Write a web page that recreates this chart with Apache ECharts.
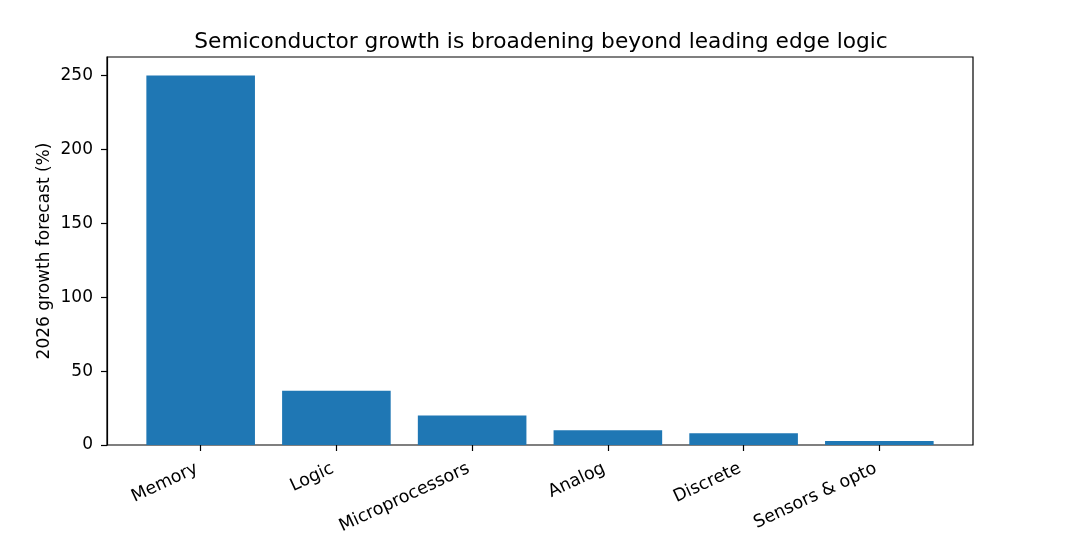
<!DOCTYPE html>
<html><head><meta charset="utf-8">
<script src="https://cdn.jsdelivr.net/npm/echarts@6/dist/echarts.min.js"></script>
<style>html,body{margin:0;padding:0;background:#fff}#c{width:1074px;height:558px}</style>
</head><body><div id="c"></div>
<script>
const categories = ['Memory', 'Logic', 'Microprocessors', 'Analog', 'Discrete', 'Sensors & opto'];
const growth = [250, 36.7, 20, 10, 8, 2.7];
const yTicks = [0, 50, 100, 150, 200, 250];

const chart = echarts.init(document.getElementById('c'));
const font = 'DejaVu Sans';
const gTop = 57, gBottom = 558 - 445;
const outerLeft = 107, outerRight = 1074 - 973;
const band = (973 - 107) / 6.38;
const pad = 0.19 * band;
chart.setOption({
  animation: false,
  title: {
    text: 'Semiconductor growth is broadening beyond leading edge logic',
    left: 536, top: 26, textAlign: 'center',
    textStyle: { fontFamily: font, fontSize: 21.7, fontWeight: 'normal', color: '#000' }
  },
  grid: [
    { left: outerLeft, right: outerRight, top: gTop, bottom: gBottom, show: true, borderColor: '#000', borderWidth: 1.2, backgroundColor: 'transparent' },
    { left: outerLeft + pad, right: outerRight + pad, top: gTop, bottom: gBottom }
  ],
  xAxis: [
    { gridIndex: 0, type: 'value', min: 0, max: 1, show: false },
    {
      gridIndex: 1, type: 'category', data: categories,
      axisLine: { show: false },
      axisTick: { show: true, alignWithLabel: true, length: 6, lineStyle: { color: '#000', width: 1.2 } },
      axisLabel: { rotate: 25, interval: 0, margin: 21, padding: [0, 4, 0, 0], fontFamily: font, fontSize: 17.5, color: '#000' }
    }
  ],
  yAxis: [
    {
      gridIndex: 0, type: 'value', min: 0, max: 262.5, interval: 50,
      name: '2026 growth forecast (%)', nameLocation: 'middle', nameGap: 54, nameMoveOverlap: false,
      nameTextStyle: { fontFamily: font, fontSize: 17, color: '#000' },
      axisLine: { show: true, lineStyle: { color: '#000', width: 1.2 } },
      axisTick: { show: true, length: 6, lineStyle: { color: '#000', width: 1.2 } },
      axisLabel: { showMaxLabel: false, margin: 14, fontFamily: font, fontSize: 17, color: '#000',
        formatter: v => yTicks.includes(v) ? String(v) : '' },
      splitLine: { show: false }
    },
    { gridIndex: 1, type: 'value', min: 0, max: 262.5, show: false, splitLine: { show: false } }
  ],
  series: [{
    type: 'bar', xAxisIndex: 1, yAxisIndex: 1, data: growth,
    barCategoryGap: '20%',
    itemStyle: { color: '#1f77b4' }
  }]
});
</script></body></html>
